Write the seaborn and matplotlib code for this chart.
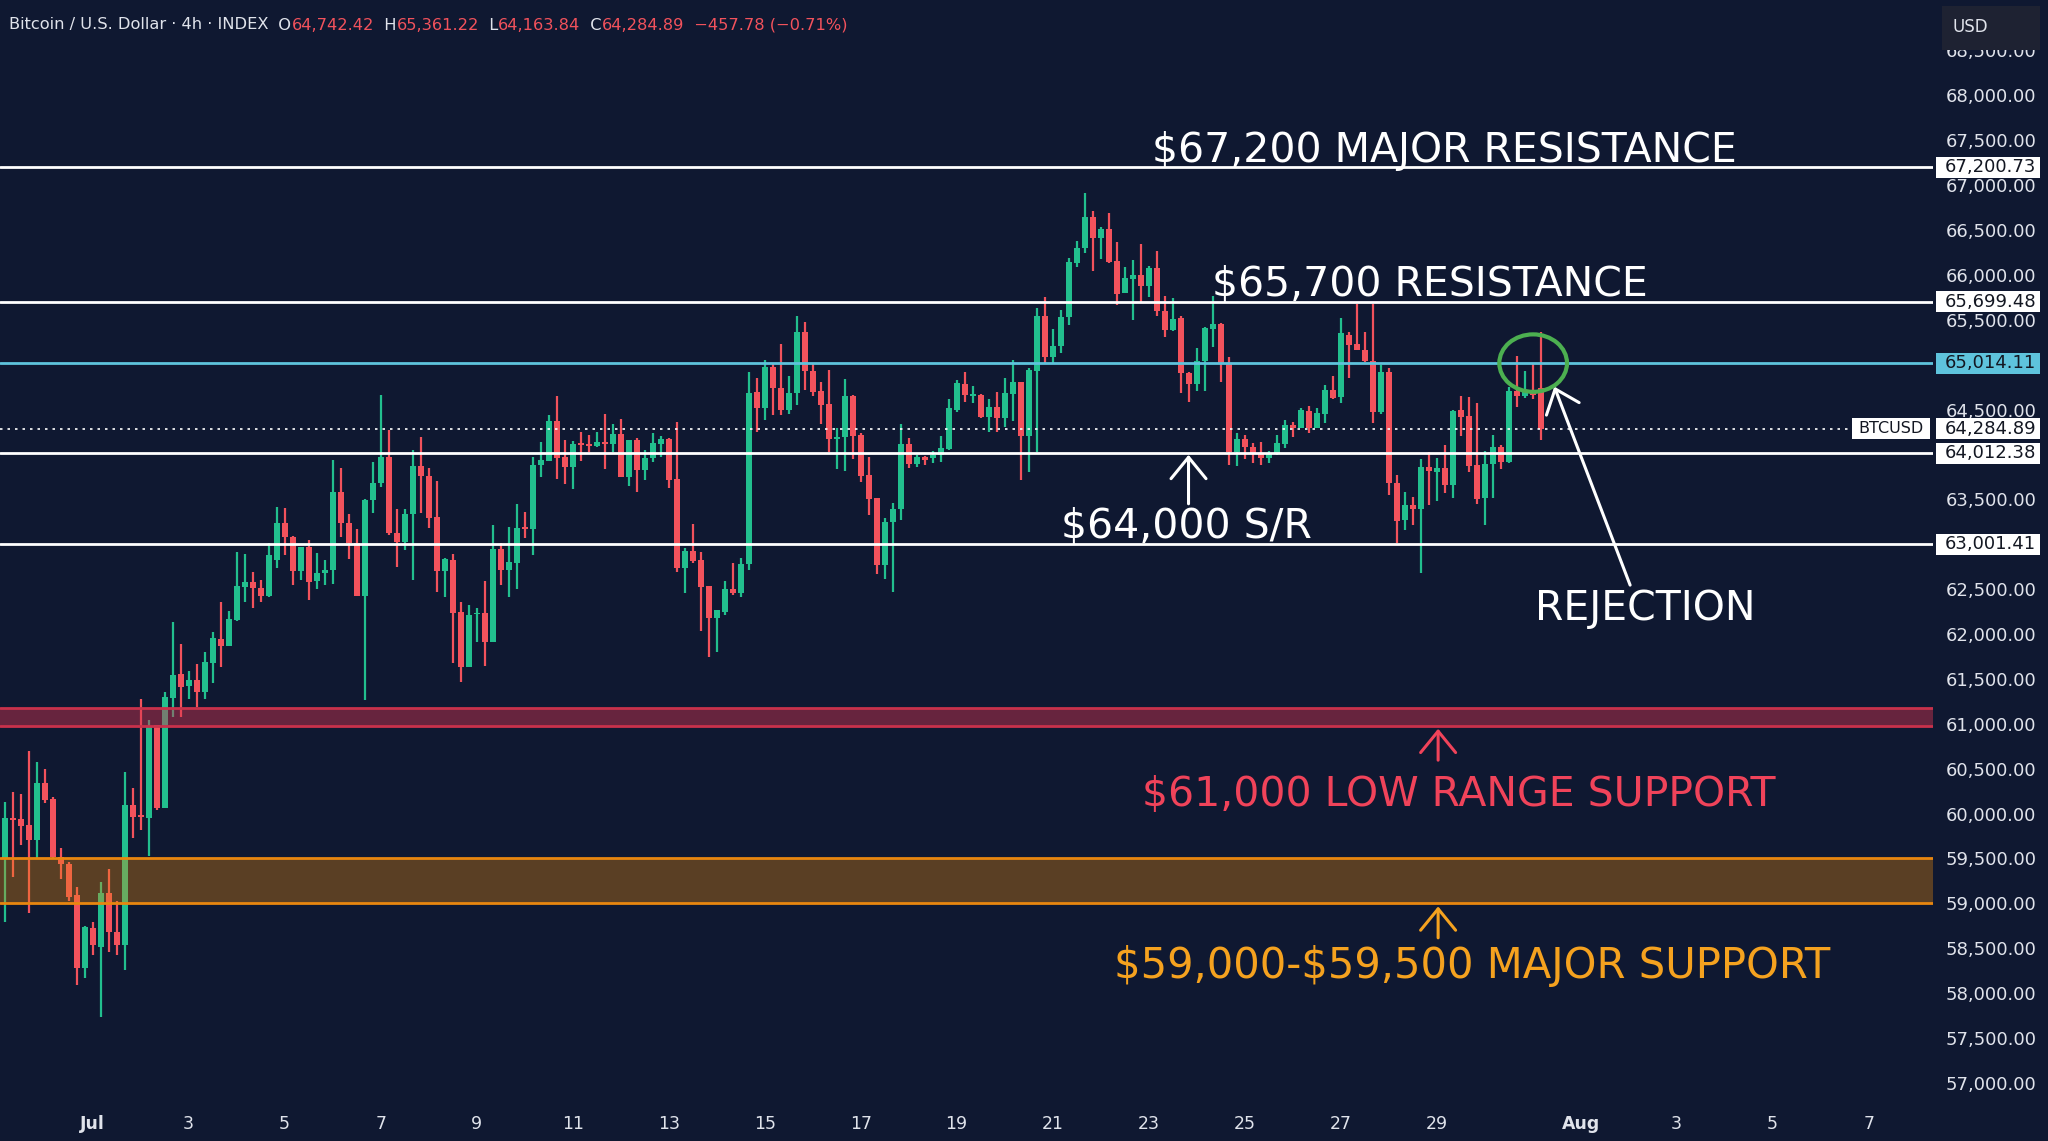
import numpy as np
import pandas as pd
import seaborn as sns
import matplotlib.pyplot as plt
from matplotlib.patches import Ellipse, Rectangle
from matplotlib.transforms import blended_transform_factory

# 4h candles, first one is Jun 29 04:00
opens = [59500, 59953, 59939, 59872, 59705, 60336, 60161, 59519, 59434, 59092,
         58275, 58728, 58517, 59111, 58684, 58535, 60095, 59976, 59954, 60986,
         60057, 61283, 61554, 61420, 61483, 61350, 61680, 61944, 61866, 62152,
         62523, 62575, 62515, 62426, 62824, 63232, 63084, 62701, 62972, 62590,
         62675, 62712, 63585, 63232, 63017, 62426, 63492, 63685, 63975, 63128,
         63020, 63332, 63874, 63759, 63306, 62705, 62824, 62241, 61628, 62218,
         62230, 61914, 62942, 62712, 62794, 63195, 63165, 63882, 63926, 64372,
         63975, 63863, 64123, 64116, 64097, 64134, 64112, 64227, 63752, 64160,
         63826, 63956, 64112, 64172, 63726, 62731, 62924, 62824, 62538, 62182,
         62248, 62497, 62460, 62776, 64692, 64521, 64977, 64736, 64495, 64680,
         65367, 64929, 64706, 64557, 64172, 64197, 64650, 64216, 63770, 63510,
         62768, 63243, 63392, 64112, 63893, 63967, 63956, 63993, 64056, 64495,
         64784, 64654, 64662, 64413, 64532, 64402, 64673, 64810, 64205, 64933,
         65542, 65089, 65211, 65527, 66136, 66295, 66641, 66407, 66507, 66154,
         65794, 65954, 65998, 65876, 66073, 65601, 65386, 65516, 64903, 64780,
         65040, 65397, 65449, 65014, 64023, 64172, 64086, 64012, 63956, 64001,
         64112, 64327, 64298, 64483, 64290, 64450, 64717, 64636, 65330, 65230,
         65163, 65040, 64476, 64922, 63685, 63269, 63436, 63388, 63863, 63808,
         63845, 63659, 64495, 64431, 63882, 63510, 63889, 64086, 63919, 64706,
         64654, 64699, 64742.42]
highs = [60131, 60236, 60213, 60700, 60577, 60496, 60187, 59612, 59463, 59185,
         58750, 58788, 59241, 59378, 59029, 60466, 60280, 61275, 61041, 60986,
         61350, 62137, 61884, 61591, 61662, 61795, 62018, 62352, 62256, 62909,
         62887, 62686, 62601, 63009, 63410, 63399, 63091, 62972, 63046, 62898,
         62824, 63938, 63845, 63336, 63165, 63499, 63919, 64662, 64272, 63388,
         63388, 64049, 64197, 63845, 63707, 62842, 62887, 62360, 62322, 62285,
         62593, 63214, 63017, 63195, 63447, 63362, 63975, 64142, 64439, 64650,
         64160, 64149, 64253, 64216, 64253, 64450, 64339, 64391, 64160, 64186,
         64049, 64235, 64209, 64186, 64365, 62954, 63221, 62909, 62538, 62267,
         62594, 62794, 62850, 64914, 64855, 65052, 65014, 65226, 64877, 65540,
         65480, 65014, 64803, 64940, 64298, 64840, 64662, 64235, 63975, 63518,
         63295, 63455, 64335, 64179, 63993, 63982, 64041, 64205, 64613, 64829,
         64922, 64762, 64673, 64613, 64699, 64847, 65051, 64810, 64959, 65627,
         65750, 65393, 65608, 66184, 66381, 66908, 66715, 66529, 66685, 66370,
         66091, 66165, 66344, 66099, 66269, 65764, 65738, 65545, 64914, 65181,
         65423, 65768, 65460, 65089, 64235, 64216, 64123, 64142, 64038, 64216,
         64383, 64365, 64521, 64539, 64513, 64773, 64873, 65516, 65367, 65680,
         65367, 65680, 64996, 64959, 63770, 63585, 63529, 63945, 64030, 63956,
         64105, 64495, 64654, 64643, 64569, 64038, 64216, 64105, 64754, 65100,
         64929, 65014, 65361.22]
lows = [58795, 59296, 59649, 58895, 59500, 60113, 59500, 59270, 59025, 58089,
        58164, 58424, 57737, 58461, 58424, 58257, 59723, 59816, 59530, 60039,
        60057, 61078, 61078, 61275, 61183, 61275, 61450, 61636, 61866, 62144,
        62360, 62285, 62360, 62415, 62731, 62879, 62545, 62601, 62378, 62501,
        62545, 62556, 63084, 62831, 62426, 61264, 63344, 63641, 63102, 62749,
        62935, 62601, 63343, 63176, 62471, 62415, 61673, 61468, 61628, 61907,
        61643, 61914, 62545, 62408, 62497, 63065, 62879, 63745, 63926, 63722,
        63670, 63611, 63926, 64030, 64079, 63834, 64030, 63752, 63648, 63585,
        63715, 63919, 63975, 63622, 62686, 62452, 62787, 62033, 61747, 61803,
        62211, 62434, 62415, 62712, 64246, 64383, 64439, 64439, 64446, 64550,
        64717, 64654, 64335, 64030, 63837, 63815, 63949, 63689, 63325, 62664,
        62612, 62471, 63269, 63845, 63863, 63882, 63900, 63919, 64049, 64476,
        64587, 64569, 64402, 64253, 64253, 64302, 64376, 63715, 63808, 64030,
        65022, 65022, 65126, 65441, 66091, 66240, 66047, 66173, 66136, 65664,
        65794, 65497, 65690, 65757, 65542, 65304, 65370, 64680, 64587, 64706,
        64706, 65200, 64803, 63880, 63870, 63950, 63900, 63880, 63900, 63993,
        64067, 64197, 64290, 64235, 64290, 64353, 64613, 64576, 64847, 65163,
        65033, 64346, 64450, 63548, 63009, 63158, 63214, 62675, 63436, 63481,
        63566, 63510, 64209, 63800, 63444, 63214, 63518, 63837, 63900, 64532,
        64632, 64617, 64163.84]
closes = [59953, 59927, 59864, 59705, 60336, 60150, 59519, 59437, 59073, 58275,
          58739, 58535, 59111, 58684, 58535, 60095, 59965, 59961, 60975, 60057,
          61294, 61543, 61405, 61483, 61350, 61684, 61959, 61866, 62163, 62534,
          62575, 62515, 62426, 62879, 63232, 63084, 62701, 62972, 62582, 62683,
          62712, 63585, 63232, 63017, 62426, 63492, 63685, 63975, 63121, 63020,
          63332, 63874, 63759, 63295, 62705, 62831, 62230, 61628, 62211, 62230,
          61914, 62942, 62712, 62805, 63176, 63165, 63882, 63938, 64372, 63956,
          63863, 64112, 64108, 64097, 64142, 64112, 64227, 63752, 64160, 63826,
          63956, 64123, 64172, 63715, 62731, 62924, 62813, 62527, 62182, 62267,
          62497, 62460, 62776, 64688, 64521, 64977, 64736, 64495, 64680, 65367,
          64929, 64699, 64550, 64172, 64197, 64650, 64205, 63763, 63503, 62768,
          63243, 63392, 64112, 63889, 63975, 63938, 63993, 64075, 64513, 64792,
          64662, 64669, 64413, 64532, 64402, 64680, 64810, 64205, 64940, 65542,
          65089, 65211, 65527, 66147, 66295, 66641, 66407, 66507, 66147, 65787,
          65961, 65998, 65876, 66073, 65601, 65386, 65505, 64903, 64780, 65040,
          65404, 65449, 65014, 64030, 64172, 64079, 64012, 63956, 64001, 64123,
          64327, 64298, 64495, 64290, 64457, 64717, 64625, 65349, 65219, 65163,
          65040, 64476, 64922, 63685, 63262, 63436, 63388, 63863, 63819, 63852,
          63659, 64483, 64420, 63874, 63503, 63889, 64086, 63919, 64706, 64654,
          64691, 64662, 64284.89]

levels = [67200.73, 65699.48, 65014.11, 64012.38, 63001.41]
level_colors = ['#ffffff', '#ffffff', '#5ec3dc', '#ffffff', '#ffffff']
last_price = 64284.89
red_zone = (60980, 61180)
orange_zone = (59000, 59500)

price_ticks = np.arange(57000, 68501, 500)
# days counted from Jul 1 00:00
date_ticks = [0, 2, 4, 6, 8, 10, 12, 14, 16, 18, 20, 22, 24, 26, 28, 31, 33, 35, 37]
date_labels = ['Jul', '3', '5', '7', '9', '11', '13', '15', '17', '19', '21', '23',
               '25', '27', '29', 'Aug', '3', '5', '7']

BG = '#0f1831'
UP = '#22bf8e'
DOWN = '#f2525c'
TXT = '#e0e3eb'

sns.set_theme(style='dark', rc={'axes.facecolor': BG, 'figure.facecolor': BG})
plt.rcParams['font.family'] = ['DejaVu Sans']

df = pd.DataFrame({'open': opens, 'high': highs, 'low': lows, 'close': closes})
df['t'] = (np.arange(len(df)) - 11) / 6.0
df['up'] = df['close'] >= df['open']
colors = np.where(df['up'], UP, DOWN)

fig = plt.figure(figsize=(20.48, 11.41), dpi=100)
ax = fig.add_axes([0, 41 / 1141, 1933 / 2048, 1100 / 1141])
ax.set_facecolor(BG)
ax.set_xlim(-1.931, 38.34)
ax.set_ylim(56808.7, 69061.6)

# candles
ax.vlines(df['t'], df['low'], df['high'], colors=colors, lw=1.6, zorder=3)
body = (df['close'] - df['open']).abs().clip(lower=20)
ax.bar(df['t'], body, bottom=df[['open', 'close']].min(axis=1), width=0.125,
       color=colors, linewidth=0, zorder=4)

# zones
ax.axhspan(*red_zone, color='#d3344f', alpha=0.45, lw=0, zorder=5)
for y in red_zone:
    ax.axhline(y, color='#c8314b', lw=2, zorder=6)
ax.axhspan(*orange_zone, color='#e8890c', alpha=0.35, lw=0, zorder=5)
for y in orange_zone:
    ax.axhline(y, color='#e8860f', lw=2, zorder=6)

# levels
for lv, c in zip(levels, level_colors):
    ax.axhline(lv, color=c, lw=2, zorder=6)
ax.axhline(last_price, color='#ffffff', lw=1.2, ls=(0, (1.5, 3)), zorder=6)

# axes styling
for s in ax.spines.values():
    s.set_visible(False)
ax.grid(False)
ax.yaxis.tick_right()
ax.set_yticks(price_ticks)
ax.set_yticklabels([f'{p:,.2f}' for p in price_ticks])
ax.set_xticks(date_ticks)
ax.set_xticklabels(date_labels)
ax.tick_params(axis='y', length=0, pad=9, labelsize=13, labelcolor=TXT)
ax.tick_params(axis='x', length=0, pad=11, labelsize=12.5, labelcolor=TXT)
for lab in ax.get_xticklabels():
    if lab.get_text() in ('Jul', 'Aug'):
        lab.set_fontweight('bold')

# price boxes on the right scale
trans = blended_transform_factory(ax.transAxes, ax.transData)
half = 10.5 / 89.77 * 1000
for lv, c in zip(levels, level_colors):
    ax.add_patch(Rectangle((1936 / 1933, lv - half), 104 / 1933, 2 * half,
                           transform=trans, fc=c, ec='none', clip_on=False, zorder=20))
    ax.text(1945 / 1933, lv, f'{lv:,.2f}', transform=trans, ha='left', va='center',
            fontsize=13, color='#131722', clip_on=False, zorder=21)
ax.add_patch(Rectangle((1936 / 1933, last_price - half), 104 / 1933, 2 * half,
                       transform=trans, fc='#ffffff', ec='none', clip_on=False, zorder=20))
ax.text(1945 / 1933, last_price, f'{last_price:,.2f}', transform=trans, ha='left',
        va='center', fontsize=13, color='#131722', clip_on=False, zorder=21)
ax.add_patch(Rectangle((1852 / 1933, last_price - half), 78 / 1933, 2 * half,
                       transform=trans, fc='#ffffff', ec='none', clip_on=False, zorder=20))
ax.text(1891 / 1933, last_price, 'BTCUSD', transform=trans, ha='center', va='center',
        fontsize=11.5, color='#131722', clip_on=False, zorder=21)

# annotations
big = dict(fontsize=29.5, ha='center', va='baseline', zorder=15)
ax.text(28.16, 67262, r'\$67,200 MAJOR RESISTANCE', color='white', **big)
ax.text(27.86, 65765, r'\$65,700 RESISTANCE', color='white', **big)
ax.text(22.78, 63070, r'\$64,000 S/R', color='white', **big)
ax.text(32.35, 62150, 'REJECTION', color='white', **big)
ax.text(28.46, 60085, r'\$61,000 LOW RANGE SUPPORT', color='#f0435a', **big)
ax.text(28.73, 58164, r'\$59,000-\$59,500 MAJOR SUPPORT', color='#f5a21f',
        fontsize=30, ha='center', va='baseline', zorder=15)

arrow = dict(arrowstyle='->,head_width=0.45,head_length=0.55', lw=2.2,
             mutation_scale=28, shrinkA=0, shrinkB=0)
ax.annotate('', xy=(22.83, 63995), xytext=(22.83, 63450),
            arrowprops=dict(color='white', **arrow), zorder=15)
ax.annotate('', xy=(28.03, 60944), xytext=(28.03, 60594),
            arrowprops=dict(color='#f0435a', **arrow), zorder=15)
ax.annotate('', xy=(28.03, 58965), xytext=(28.03, 58615),
            arrowprops=dict(color='#f5a21f', **arrow), zorder=15)
ax.annotate('', xy=(30.45, 64755), xytext=(32.03, 62544),
            arrowprops=dict(color='white', **arrow), zorder=15)
ax.add_patch(Ellipse((30.01, 65017), 1.41, 640, fill=False, ec='#4caf50', lw=3, zorder=16))

# header line
renderer = fig.canvas.get_renderer()
header = [('Bitcoin / U.S. Dollar · 4h · INDEX', TXT), ('  O', TXT), ('64,742.42', DOWN),
          ('  H', TXT), ('65,361.22', DOWN), ('  L', TXT), ('64,163.84', DOWN),
          ('  C', TXT), ('64,284.89', DOWN), ('  −457.78 (−0.71%)', DOWN)]
x = 9
for s, c in header:
    t = fig.text(x / 2048, 1 - 25 / 1141, s, color=c, fontsize=11.7, ha='left', va='center')
    x += t.get_window_extent(renderer).width

# currency box
fig.patches.append(Rectangle((1942 / 2048, 1 - 50 / 1141), 98 / 2048, 44 / 1141,
                             transform=fig.transFigure, fc='#1e2232', ec='none', zorder=30))
fig.text(1953 / 2048, 1 - 27 / 1141, 'USD', color=TXT, fontsize=12, va='center', zorder=31)

fig.savefig('out.png', dpi=100, facecolor=BG)
